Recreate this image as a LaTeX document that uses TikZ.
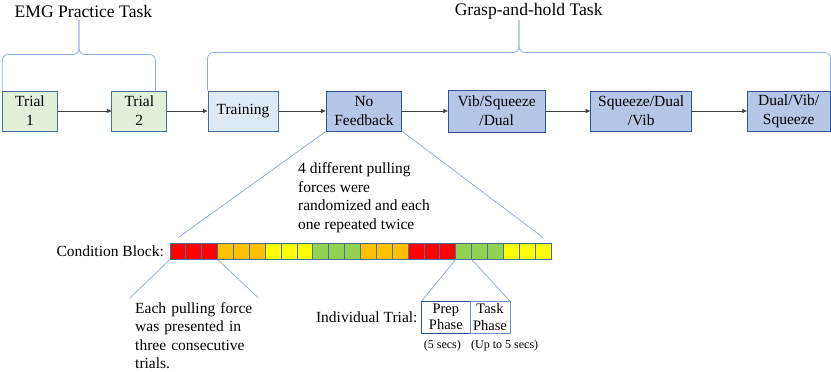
\documentclass[tikz,border=0pt]{standalone}
\usepackage{fontspec}
\setmainfont{Liberation Serif}
\usetikzlibrary{arrows.meta,calc,positioning}
\definecolor{boxline}{HTML}{41719C}
\definecolor{darkline}{HTML}{2F5597}
\definecolor{taskline}{HTML}{6F8FC8}
\definecolor{linkblue}{HTML}{8FAADC}
\definecolor{trialbg}{HTML}{E2F0D9}
\definecolor{trainbg}{HTML}{DEEBF7}
\definecolor{condbg}{HTML}{B4C7E7}
\definecolor{cellred}{HTML}{FF0000}
\definecolor{cellorange}{HTML}{FFC000}
\definecolor{cellyellow}{HTML}{FFFF00}
\definecolor{cellgreen}{HTML}{92D050}
\tikzset{
  stagebox/.style={draw=boxline, line width=1pt, align=center, inner sep=1pt, minimum height=40pt, font=\fontsize{15.5}{19}\selectfont},
  trialfill/.style={fill=trialbg},
  trainfill/.style={fill=trainbg},
  condfill/.style={fill=condbg},
  cellbox/.style={draw=boxline, line width=0.9pt, minimum width=15.875pt, minimum height=16pt, inner sep=0pt, outer sep=0pt},
  phasebox/.style={line width=1pt, align=center, minimum height=32pt, inner sep=0pt, outer sep=0pt, font=\fontsize{14.5}{16.5}\selectfont},
  stagearrow/.style={-{Triangle[length=4.5pt,width=4pt]}, line width=0.7pt, draw=black!75},
  bluelink/.style={draw=linkblue, line width=0.75pt},
  bodytext/.style={font=\fontsize{15.5}{18.6}\selectfont, align=left, inner sep=2pt},
  titletext/.style={font=\fontsize{17.6}{20}\selectfont, inner sep=2pt},
  smalltext/.style={font=\fontsize{12}{13}\selectfont, inner sep=1pt}
}

\begin{document}
\begin{tikzpicture}[x=1pt,y=-1pt]
  \useasboundingbox (0,0) rectangle (831,372);

  % top row of stages
  \node[stagebox, trialfill, minimum width=54.6pt] (trialA) at (30,111) {Trial\\1};
  \node[stagebox, trialfill, minimum width=54.7pt] (trialB) at (139.3,111) {Trial\\2};
  \node[stagebox, trainfill, minimum width=70pt] (training) at (243,111) {Training};
  \node[stagebox, condfill, draw=darkline, minimum width=75.7pt] (nofb) at (364,111) {No\\Feedback};
  \node[stagebox, condfill, draw=darkline, minimum width=96.7pt, minimum height=42pt] (vsd) at (496.7,111) {Vib/Squeeze\\/Dual};
  \node[stagebox, condfill, draw=darkline, minimum width=101pt] (sdv) at (641.2,111) {Squeeze/Dual\\/Vib};
  \node[stagebox, condfill, draw=darkline, minimum width=82.7pt] (dvs) at (788.7,111) {Dual/Vib/\\Squeeze};

  \draw[stagearrow] (trialA) -- (trialB);
  \draw[stagearrow] (trialB) -- (training);
  \draw[stagearrow] (training) -- (nofb);
  \draw[stagearrow] (nofb) -- (vsd);
  \draw[stagearrow] (vsd) -- (sdv);
  \draw[stagearrow] (sdv) -- (dvs);

  % task titles and braces
  \node[titletext] (emgtitle) at (83.4,11) {EMG Practice Task};
  \node[titletext] (grasptitle) at (528.7,11) {Grasp-and-hold Task};

  \coordinate (emgmid) at (79,54.5);
  \coordinate (emgtip) at (79,20);
  \coordinate (emgend) at ($(trialB.north east)+(-11.7,0)$);
  \draw[bluelink, rounded corners=6pt] (trialA.north west) |- (emgmid) -- (emgtip);
  \draw[bluelink, rounded corners=6pt] (emgend) |- (emgmid) -- (emgtip);

  \coordinate (graspmid) at (519,52.5);
  \coordinate (grasptip) at (519,20);
  \draw[bluelink, rounded corners=6pt] (training.north west) |- (graspmid) -- (grasptip);
  \draw[bluelink, rounded corners=6pt] (dvs.north east) |- (graspmid) -- (grasptip);

  % condition block
  \foreach \col [count=\i] in {cellred,cellred,cellred,cellorange,cellorange,cellorange,
      cellyellow,cellyellow,cellyellow,cellgreen,cellgreen,cellgreen,
      cellorange,cellorange,cellorange,cellred,cellred,cellred,
      cellgreen,cellgreen,cellgreen,cellyellow,cellyellow,cellyellow}
    \node[cellbox, fill=\col] (cell\i) at ({170+(\i-0.5)*15.875},251.5) {};

  \node[bodytext, left=4pt of cell1] (condlabel) {Condition Block:};

  \node[bodytext, below=29pt of nofb] (forcetext)
    {4 different pulling\\forces were\\randomized and each\\one repeated twice};

  \draw[bluelink, shorten >=10pt] (nofb.south west) -- (cell1.north west);
  \draw[bluelink, shorten >=10pt] (nofb.south east) -- (cell24.north east);

  % each force in three trials
  \node[bodytext, anchor=north west, inner xsep=5pt, text width=118pt] (threetext) at (130,300)
    {Each pulling force\\was presented in\\three consecutive\\trials.};
  \draw[bluelink] (cell1.south west) -- ($(threetext.north west)+(0,-2)$);
  \draw[bluelink] (cell3.south east) -- ($(threetext.north east)+(0,-2)$);

  % individual trial
  \node[phasebox, draw=darkline, minimum width=48.3pt] (prep) at (445.85,317) {Prep\\Phase};
  \node[phasebox, draw=taskline, minimum width=40pt, right=0pt of prep] (task) {Task\\Phase};
  \node[bodytext, left=2pt of prep] (triallabel) {Individual Trial:};
  \node[smalltext, anchor=north west] (prepsecs) at ($(prep.south west)+(1,6)$) {(5 secs)};
  \node[smalltext, anchor=north west] (tasksecs) at ($(task.south west)+(0,6)$) {(Up to 5 secs)};

  \draw[bluelink] (cell19.south west) -- (prep.north west);
  \draw[bluelink] (cell19.south east) -- (task.north east);

\end{tikzpicture}
\end{document}
